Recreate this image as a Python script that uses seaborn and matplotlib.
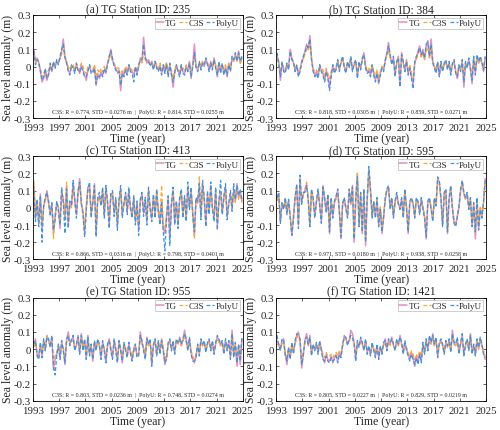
import numpy as np
import pandas as pd
import matplotlib
matplotlib.use("Agg")
import matplotlib.pyplot as plt
import seaborn as sns

# ---------------- data (sea level anomaly, cm, quarterly from 1993) -------------
start_year = 1993
n_quarters = 128
panel_letters = ["a", "b", "c", "d", "e", "f"]
station_ids = ["235", "384", "413", "595", "955", "1421"]
stats_text = [
    "C3S: R = 0.774, STD = 0.0276 m  |  PolyU: R = 0.814, STD = 0.0255 m",
    "C3S: R = 0.818, STD = 0.0305 m  |  PolyU: R = 0.859, STD = 0.0271 m",
    "C3S: R = 0.866, STD = 0.0316 m  |  PolyU: R = 0.798, STD = 0.0401 m",
    "C3S: R = 0.971, STD = 0.0180 m  |  PolyU: R = 0.938, STD = 0.0258 m",
    "C3S: R = 0.803, STD = 0.0236 m  |  PolyU: R = 0.748, STD = 0.0274 m",
    "C3S: R = 0.805, STD = 0.0227 m  |  PolyU: R = 0.829, STD = 0.0219 m",
]
xtick_values = [1993, 1997, 2001, 2005, 2009, 2013, 2017, 2021, 2025]
ytick_values = [-0.3, -0.2, -0.1, 0.0, 0.1, 0.2, 0.3]
ytick_labels = ["-0.3", "-0.2", "-0.1", "0", "0.1", "0.2", "0.3"]
series_names = ["TG", "C3S", "PolyU"]

tg_235 = [10, 3, 5, 2, -2, -9, -7, -3, -8, -4, 0, -3, 2, 0, 3, 2,
          5, 9, 16, 6, 3, -2, -4, 0, 0, -3, 1, -2, -4, 1, -2, -5,
          -8, -2, 0, -3, -3, 0, -11, -4, -7, -3, -5, -2, -4, 2, 5, 10,
          4, 1, -1, -3, -2, -14, -3, -5, -1, -4, 0, -2, -3, -5, -1, -4,
          0, 5, 3, 17, 6, 2, 4, 1, 3, -1, 2, 0, -2, 1, -4, 0,
          -3, 2, -5, 1, -4, -12, -3, 0, -2, -5, 0, -3, -4, 0, -2, 3,
          -7, 1, 13, 0, -2, 2, -1, 3, 0, 4, 2, -2, 3, -1, 5, 0,
          -6, 2, -3, 1, -4, 0, -6, 2, -2, 5, 3, 7, 4, 9, 2, 5]
c3s_235 = [6, 2, 3, 1, -1, -6, -4, -2, -5, -2, 1, -1, 2, 1, 2, 3,
           4, 7, 10, 5, 2, 0, -2, 1, 1, -2, 2, 0, -2, 2, 0, -3,
           -4, 0, 1, -1, -2, 1, -6, -2, -4, -1, -3, 0, -2, 2, 4, 7,
           3, 2, 0, -1, -1, -7, -2, -3, 0, -2, 1, -1, -2, -3, 0, -2,
           1, 3, 2, 8, 4, 2, 3, 1, 2, 0, 3, 1, -1, 2, -2, 1,
           -1, 2, -3, 1, -2, -7, -2, 1, -1, -3, 1, -1, -2, 1, 0, 2,
           -4, 1, 6, 1, -1, 2, 0, 3, 1, 3, 2, 0, 2, 0, 4, 1,
           -3, 2, -1, 1, -2, 1, -3, 2, -1, 4, 3, 6, 3, 7, 2, 4]
polyu_235 = [9, 1, 4, 3, -3, -8, -6, -1, -7, -5, 2, -2, 3, -1, 4, 1,
             6, 10, 13, 5, 2, -3, -5, 1, -1, -4, 2, -3, -3, 0, -3, -6,
             -6, -3, 1, -4, -4, -1, -10, -5, -6, -4, -6, -1, -3, 1, 6, 9,
             5, 0, -2, -4, -3, -11, -4, -6, -2, -5, 1, -3, -4, -9, 0, -5,
             1, 4, 4, 13, 5, 3, 3, 0, 2, -2, 3, -1, -3, 0, -5, 1,
             -4, 1, -6, 2, -5, -9, -4, 1, -3, -6, 1, -4, -5, -1, -3, 2,
             -6, 0, 8, -1, -3, 3, -2, 2, 1, 5, 1, -3, 2, -2, 4, -1,
             -5, 3, -4, 2, -5, -1, -5, 1, -3, 6, 4, 8, 3, 8, 3, 6]

tg_384 = [6, 3, -8, 2, -2, -3, 1, -1, 10, 5, 2, -2, 0, -5, -2, 3,
          5, 9, 13, 10, 18, 5, -2, -5, -3, -6, 0, -2, -4, -8, -2, -6,
          -12, -5, 0, -3, -1, 3, -2, 2, 5, 0, -3, 2, 0, 5, -2, 1,
          3, -6, 2, -1, 4, 8, 0, -3, -2, -5, 0, -4, -8, -3, -10, -4,
          0, -2, 3, 8, 14, 6, 2, 5, -5, 2, 6, -11, 8, 2, -2, 4,
          -4, 0, -6, -10, 2, 5, 9, 12, 6, 10, 4, 12, 15, 5, 16, 3,
          0, -3, 2, -5, 2, -2, 1, 3, -1, 2, -4, 1, 3, -3, -7, 0,
          -2, 3, -12, 2, 0, 4, -1, -10, 5, -4, 6, 2, 5, 2, -3, 5]
c3s_384 = [4, 2, -3, 1, -1, -1, 1, 0, 7, 4, 2, -1, 1, -3, -1, 2,
           4, 7, 10, 9, 13, 4, -1, -3, -2, -4, 1, -1, -2, -5, -1, -4,
           -7, -3, 1, -2, 0, 3, -1, 2, 4, 1, -2, 2, 1, 4, -1, 1,
           2, -4, 2, 0, 3, 6, 1, -2, -1, -3, 1, -3, -5, -2, -7, -3,
           0, -1, 3, 6, 10, 5, 2, 4, -3, 2, 5, -6, 6, 2, -1, 3,
           -3, 1, -4, -6, 2, 4, 7, 9, 5, 8, 4, 9, 11, 5, 10, 3,
           1, -2, 2, -3, 2, -1, 1, 2, 0, 2, -2, 1, 2, -2, -4, 1,
           -1, 2, -6, 2, 1, 3, 0, -5, 4, -2, 5, 2, 4, 2, -1, 4]
polyu_384 = [8, 2, -6, 3, -3, -4, 2, -2, 9, 4, 3, -3, 1, -6, -3, 2,
             6, 8, 12, 11, 16, 4, -3, -6, -4, -7, 1, -3, -5, -9, -3, -7,
             -14, -6, 1, -4, -2, 4, -3, 3, 6, -1, -4, 3, -1, 6, -3, 2,
             4, -7, 3, -2, 5, 7, -1, -4, -3, -6, 1, -5, -9, -4, -9, -5,
             -1, -3, 4, 7, 12, 7, 1, 6, -6, 3, 5, -12, 7, 3, -3, 3,
             -5, -1, -7, -13, 3, 6, 8, 11, 7, 9, 5, 13, 14, 6, 13, 2,
             -1, -4, 3, -6, 3, -3, 2, 4, -2, 3, -5, 2, 4, -4, -6, 1,
             -3, 4, -9, 3, -1, 5, -2, -8, 6, -5, 7, 3, 6, 3, -2, 6]

tg_413 = [14, -6, 4, -9, 8, -12, 0, 5, 10, 3, -3, 2, -15, -5, 3, 0,
          -12, 10, 4, -6, 13, -10, 3, 1, 15, 4, -4, 9, 17, 2, -2, -15,
          0, 12, 13, -4, 3, 14, -15, 5, 7, 2, 10, -4, 12, 3, -10, 7,
          9, -3, 5, -10, 4, 11, -4, 2, 8, -2, 10, 0, -5, 6, -8, 3,
          -12, 4, 8, -3, 5, -8, 10, 0, -6, 7, -4, 9, -2, -8, 3, -12,
          -15, -5, 6, -18, 2, 10, -8, 3, -10, 5, 9, -4, 6, -6, 12, 0,
          10, -3, -16, 5, 3, 12, -5, 14, 5, -9, 8, -2, 13, 0, -6, 10,
          -10, 4, 9, -3, 6, 12, -5, 2, 8, 0, 10, 4, 14, 6, 9, 4]
c3s_413 = [16, -4, 3, -7, 6, -10, 1, 4, 8, 2, -2, 2, -18, -4, 2, 1,
           -9, 9, 5, -4, 15, -8, 2, 0, 12, 3, -3, 7, 14, 1, -1, -12,
           1, 10, 11, -3, 2, 12, -12, 4, 6, 3, 8, -3, 10, 2, -8, 6,
           8, -2, 4, -8, 3, 9, -3, 2, 7, -1, 9, 1, -4, 5, -6, 2,
           -10, 3, 7, -2, 4, -6, 9, 1, -5, 6, -3, 8, -1, -6, 13, -10,
           -12, -4, 5, -15, 1, 9, -6, 3, -8, 4, 8, -3, 5, -5, 10, 1,
           8, -2, -18, 4, 2, 18, -4, 12, 4, -7, 7, -1, 11, 1, -5, 8,
           -8, 3, 7, -2, 5, 10, -4, 2, 7, 1, 8, 3, 11, 5, 7, 3]
polyu_413 = [10, -8, 5, -11, 7, -20, 2, 6, 9, 4, -5, 3, -13, -7, 4, -2,
             -10, 12, 3, -15, 11, -12, 4, 2, 16, 5, -6, 10, 15, 3, -4, -17,
             -2, 11, 15, -6, 4, 13, -17, 6, 9, 1, 12, -6, 13, 4, -12, 9,
             10, -5, 6, -13, 5, 13, -6, 3, 9, -4, 12, -1, -6, 7, -10, 4,
             -16, 5, 9, -5, 6, -10, 12, -1, -8, 8, -6, 11, -3, -10, 4, -14,
             -25, -7, 7, -22, 3, 12, -10, 4, -12, 6, 11, -6, 7, -8, 15, -1,
             12, -5, -14, 6, 4, 14, -7, 16, 6, -11, 10, -4, 15, -1, -8, 12,
             -13, 5, 16, -4, 7, 14, -7, 3, 10, -2, 14, 5, 13, 7, 11, 5]

tg_595 = [5, 8, -8, 2, 0, 5, -3, 4, -5, -16, -5, 6, 12, -10, 17, 3,
          8, 10, 14, 5, -10, 10, 5, -5, 3, 10, 2, -8, 13, 5, -2, 7,
          -15, 5, -5, 3, 6, 10, -2, -18, 2, 5, 0, -5, 10, 2, 13, -20,
          5, 19, -10, 8, -15, 10, -22, 5, 22, 10, -5, 3, -5, 5, -10, 0,
          -15, -5, 5, 10, 12, 0, 5, -5, 3, 8, 2, 0, 5, -5, 10, 0,
          -15, 3, 5, 2, -5, 5, 3, -3, 5, 0, -5, -18, 3, 5, 0, -7,
          5, 2, 17, 15, 5, -10, 8, 10, -15, 5, 12, 0, -8, -10, -5, 0,
          10, 15, 8, 5, 8, 0, 5, -10, 2, -18, 5, -12, 0, -5, 3, 17]
c3s_595 = [4, 7, -7, 2, 1, 4, -2, 4, -4, -14, -4, 5, 11, -9, 15, 3,
           8, 11, 15, 6, -8, 9, 5, -4, 3, 9, 2, -7, 12, 5, -1, 6,
           -12, 5, -4, 3, 5, 9, -1, -15, 2, 5, 1, -4, 9, 2, 12, -17,
           5, 21, -8, 7, -13, 9, -18, 5, 20, 9, -4, 3, -4, 5, -8, 1,
           -12, -4, 5, 9, 11, 1, 5, -4, 3, 7, 2, 1, 5, -4, 9, 1,
           -12, 3, 5, 2, -4, 5, 3, -2, 5, 1, -4, -15, 3, 5, 1, -6,
           5, 3, 16, 14, 5, -8, 8, 9, -13, 5, 11, 1, -7, -9, -4, 1,
           9, 14, 8, 5, 7, 1, 5, -8, 2, -15, 5, -10, 1, -4, 3, 15]
polyu_595 = [6, 9, -9, 3, -1, 6, -4, 5, -6, -16, -7, 7, 14, -12, 19, 2,
             9, 9, 13, 4, -11, 11, 6, -6, 4, 11, 1, -9, 12, 6, -3, 8,
             -14, 6, -6, 4, 7, 11, -3, -17, 3, 6, -1, -6, 11, 3, 12, -18,
             6, 18, -11, 9, -14, 11, -20, 6, 24, 11, -6, 4, -6, 6, -11, -1,
             -14, -6, 6, 11, 13, -1, 6, -6, 4, 9, 3, -1, 6, -6, 11, -1,
             -14, 4, 6, 3, -6, 6, 4, -4, 6, -1, -6, -17, 4, 6, -1, -8,
             6, 1, 18, 16, 6, -11, 9, 11, -14, 6, 13, -1, -9, -11, -6, 1,
             11, 16, 9, 6, 9, -1, 6, -11, 3, -14, 6, -13, -1, -6, 4, 16]

tg_955 = [2, 6, -3, -5, 3, -4, 5, 0, 8, 5, 2, 7, -12, -6, -3, 2,
          -5, 4, 0, -9, 5, 10, 3, 5, 7, 0, 2, 8, -2, 9, 0, 5,
          -5, 8, -3, 2, -7, 4, 0, 5, 2, -5, 4, 0, -7, 2, 6, 0,
          -5, 5, 0, -7, 4, 0, -8, 3, 0, -4, 3, -2, -6, 0, 2, -4,
          -3, 10, 4, 0, -5, 7, 2, 5, -9, 2, 5, -3, 4, -2, 6, 0,
          -9, -5, 3, 5, 0, 4, -2, 5, 3, 7, 2, 5, 11, 5, 0, 6,
          -2, -6, -8, -4, 2, -3, 5, 2, 4, -1, 3, 5, 0, 4, -2, 3,
          7, 5, 2, 4, -2, 5, 0, 4, -5, 11, -4, 3, -10, 2, -9, 6]
c3s_955 = [1, 4, -2, -3, 2, -2, 4, 1, 7, 4, 2, 5, -8, -4, -2, 2,
           -3, 3, 1, -5, 4, 7, 3, 4, 5, 1, 2, 6, -1, 7, 1, 4,
           -3, 6, -2, 2, -5, 3, 1, 4, 2, -3, 3, 0, -5, 2, 5, 1,
           -4, 4, 1, -5, 3, 1, -6, 2, 1, -3, 2, -1, -4, 1, 2, -3,
           -2, 7, 3, 1, -3, 5, 2, 4, -6, 2, 4, -2, 3, -1, 5, 1,
           -6, -3, 3, 4, 1, 3, -1, 4, 3, 5, 2, 4, 8, 4, 1, 5,
           -1, -4, -6, -3, 2, -2, 4, 2, 3, 0, 3, 4, 1, 3, -1, 3,
           6, 4, 2, 3, -1, 4, 1, 3, -3, 8, -3, 3, -6, 2, -5, 6]
polyu_955 = [3, 5, -4, -6, 4, -5, 6, -1, 7, 6, 1, 8, -10, -15, -4, 3,
             -6, 5, -1, -8, 6, 8, 2, 6, 8, -1, 3, 7, -3, 8, -1, 6,
             -6, 7, -4, 3, -6, 5, -1, 6, 3, -6, 5, -1, -8, 3, 5, -1,
             -6, 6, -1, -8, 5, -1, -7, 4, -1, -5, 4, -3, -7, -1, 3, -5,
             -4, 8, 5, -1, -6, 6, 3, 6, -10, 3, 6, -4, 5, -3, 5, -1,
             -8, -6, 4, 6, -1, 5, -3, 6, 4, 6, 3, 6, 9, 6, -1, 7,
             -3, -7, -7, -5, 3, -4, 6, 3, 5, -2, 4, 6, -1, 5, -3, 4,
             8, 6, 3, 5, -3, 6, -1, 5, -6, 9, -5, 4, -8, 3, -7, 7]

tg_1421 = [5, 3, 0, 5, 6, -3, -9, 0, -5, 3, -2, 4, 8, 10, 5, -11,
           -3, 5, 9, 2, 8, -3, 2, 0, 3, -2, 4, 0, -5, -8, -3, -6,
           -7, -4, -8, -5, -3, -7, -2, -4, 2, 8, 6, 3, 5, 11, 9, 4,
           -6, 4, 2, 6, 3, 0, 5, -2, 1, -3, 3, 0, -4, 2, -5, 1,
           -2, 3, 6, 0, 5, 3, 7, 2, 0, 5, 2, 8, 3, -2, 4, 0,
           -3, -6, -2, -5, -10, -4, -8, -2, -7, 3, -2, 5, 0, 7, 3, 9,
           2, 6, -4, 3, 5, 2, -2, 4, 1, 5, -1, 11, 3, 2, 6, -2,
           3, 8, -3, 2, 5, 0, 9, -2, 2, -3, 5, 0, 6, 2, -2, -6]
c3s_1421 = [3, 2, 1, 3, 4, -2, -5, 1, -3, 2, -1, 3, 6, 8, 4, -6,
            -1, 4, 7, 2, 6, -1, 2, 1, 2, -1, 3, 1, -3, -5, -2, -4,
            -4, -3, -5, -3, -2, -4, -1, -2, 2, 6, 5, 3, 4, 7, 6, 3,
            -3, 3, 2, 4, 2, 1, 4, -1, 1, -2, 2, 0, -2, 2, -3, 1,
            -1, 2, 4, 1, 4, 2, 5, 2, 1, 4, 2, 6, 2, -1, 3, 1,
            -2, -4, -1, -3, -6, -3, -5, -1, -4, 2, -1, 4, 1, 5, 3, 6,
            2, 5, -2, 3, 4, 2, -1, 3, 1, 4, 0, 7, 3, 2, 5, -1,
            3, 6, -2, 2, 4, 1, 6, -1, 2, -2, 4, 1, 5, 2, -1, -4]
polyu_1421 = [8, 2, -1, 6, 5, -4, -7, 1, -6, 4, -3, 5, 9, 8, 6, -9,
              -4, 6, 7, 3, 7, -4, 3, -1, 4, -3, 5, -1, -6, -7, -4, -7,
              -8, -5, -7, -6, -4, -8, -3, -5, 3, 7, 7, 2, 6, 8, 7, 3,
              -7, 5, 1, 7, 4, -1, 6, -3, 2, -4, 4, -1, -5, 3, -6, 2,
              -3, 4, 5, -1, 6, 4, 6, 3, -1, 6, 3, 7, 4, -3, 5, -1,
              -4, -7, -3, -6, -9, -5, -9, -3, -8, 4, -3, 6, -1, 8, 4, 8,
              3, 7, -5, 4, 6, 3, -3, 5, 2, 6, -2, 9, 4, 3, 7, -3,
              4, 9, -4, 3, 6, -1, 8, -3, 3, -4, 6, 1, 7, 3, -3, -5]

panels_cm = [
    (tg_235, c3s_235, polyu_235),
    (tg_384, c3s_384, polyu_384),
    (tg_413, c3s_413, polyu_413),
    (tg_595, c3s_595, polyu_595),
    (tg_955, c3s_955, polyu_955),
    (tg_1421, c3s_1421, polyu_1421),
]

# ---------------- style ----------------
sns.set_style("ticks")
plt.rcParams["font.family"] = ["Liberation Serif", "DejaVu Serif"]
plt.rcParams["xtick.direction"] = "in"
plt.rcParams["ytick.direction"] = "in"
plt.rcParams["xtick.top"] = True
plt.rcParams["ytick.right"] = True
plt.rcParams["axes.linewidth"] = 0.6
plt.rcParams["xtick.major.width"] = 0.5
plt.rcParams["ytick.major.width"] = 0.5
plt.rcParams["xtick.major.size"] = 2.5
plt.rcParams["ytick.major.size"] = 2.5

colors = {"TG": "#DE7CB7", "C3S": "#F5A83A", "PolyU": "#3F93DC"}
styles = {"TG": "-", "C3S": (0, (3, 1.8)), "PolyU": (0, (3, 1.8))}
widths = {"TG": 1.1, "C3S": 0.9, "PolyU": 0.9}
alphas = {"TG": 0.85, "C3S": 1.0, "PolyU": 1.0}

fig, axes = plt.subplots(3, 2, figsize=(5.0, 4.31), dpi=100)
fig.subplots_adjust(left=0.066, right=0.972, top=0.963, bottom=0.068,
                    wspace=0.16, hspace=0.37)

t = start_year + 0.125 + 0.25 * np.arange(n_quarters)

for i, ax in enumerate(axes.flat):
    tg, c3s, pu = panels_cm[i]
    df = pd.DataFrame({
        "time": np.tile(t, 3),
        "sla": np.concatenate([tg, c3s, pu]) / 100.0,
        "source": np.repeat(series_names, n_quarters),
    })
    for name in series_names:
        sub = df[df["source"] == name]
        sns.lineplot(data=sub, x="time", y="sla", ax=ax, color=colors[name],
                     linestyle=styles[name], linewidth=widths[name],
                     alpha=alphas[name], label=name, errorbar=None, sort=False)
    ax.set_xlim(1993, 2025)
    ax.set_ylim(-0.3, 0.3)
    ax.set_xticks(xtick_values)
    ax.set_xticklabels([str(v) for v in xtick_values], fontsize=7.8)
    ax.set_yticks(ytick_values)
    ax.set_yticklabels(ytick_labels, fontsize=7.8)
    ax.tick_params(axis="x", pad=3.5)
    ax.tick_params(axis="y", pad=1.5)
    ax.set_xlabel("Time (year)", fontsize=8.5, labelpad=0)
    ax.set_ylabel("Sea level anomaly (m)", fontsize=8.5, labelpad=0)
    ax.set_title(f"({panel_letters[i]}) TG Station ID: {station_ids[i]}",
                 fontsize=8.3, pad=1.5)
    ax.text(0.5, 0.035, stats_text[i], transform=ax.transAxes,
            ha="center", va="bottom", fontsize=4.2)
    leg = ax.legend(loc="upper right", ncol=3, fontsize=6.5, frameon=True,
                    fancybox=False, edgecolor="#bbbbbb", framealpha=1,
                    handlelength=0.9, handletextpad=0.12, columnspacing=0.25,
                    borderpad=0.15, borderaxespad=0.3)
    leg.get_frame().set_linewidth(0.5)
    for spine in ax.spines.values():
        spine.set_visible(True)
        spine.set_color("black")

fig.savefig("out.png", dpi=100)
